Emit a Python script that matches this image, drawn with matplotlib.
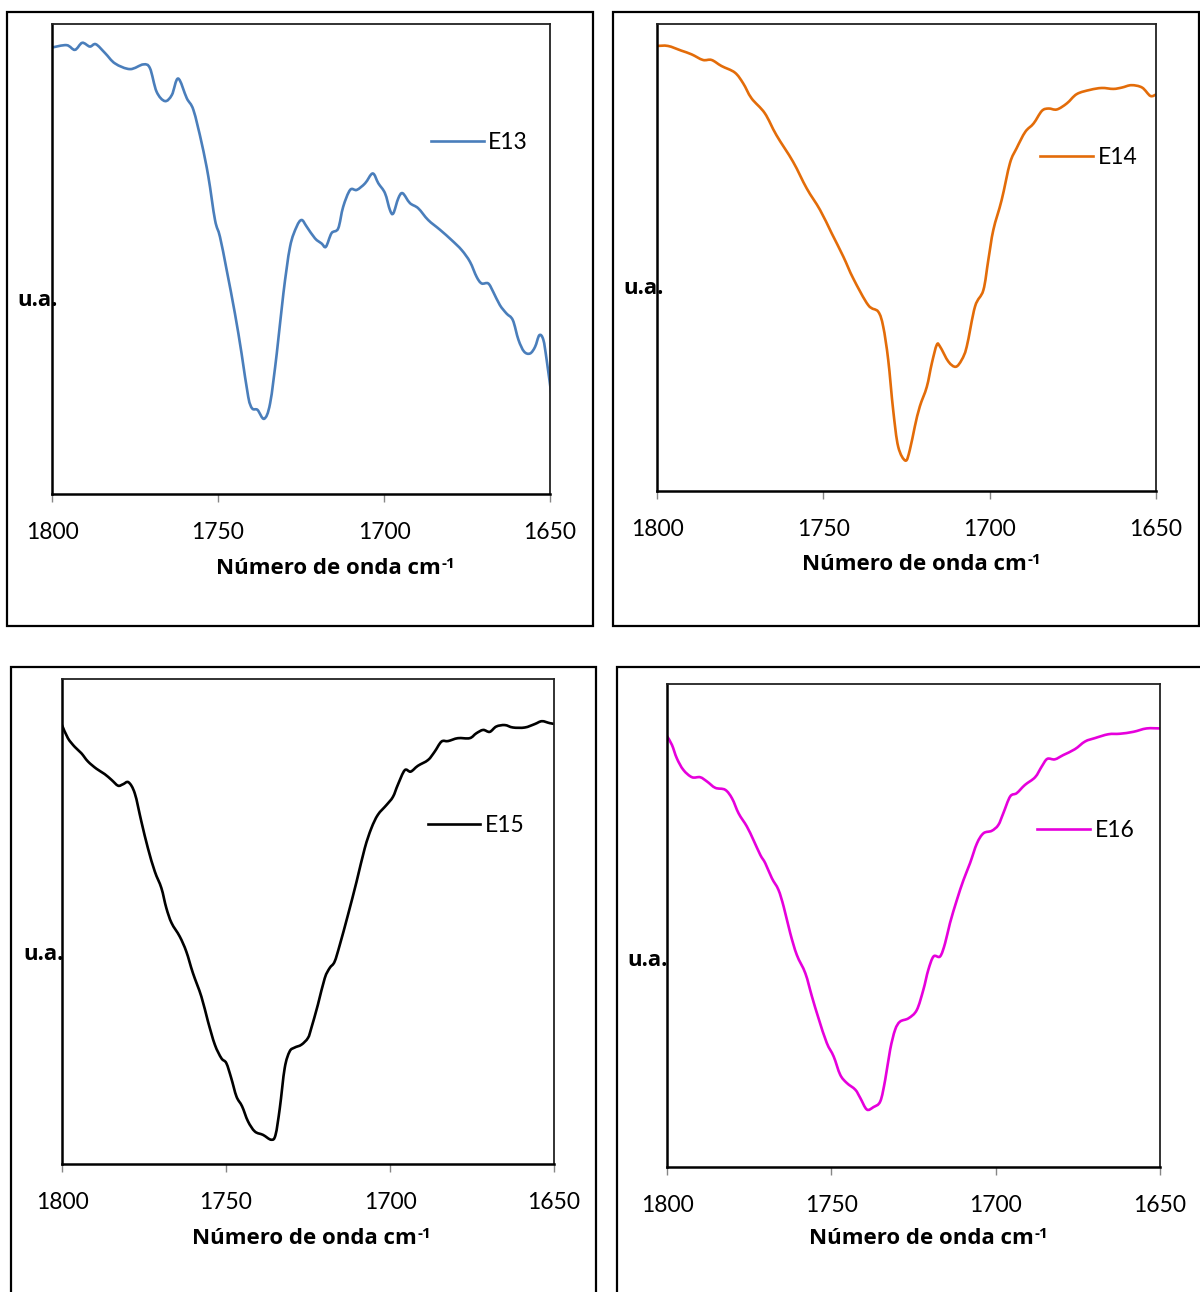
import matplotlib
matplotlib.use("Agg")
import matplotlib.pyplot as plt
import matplotlib.patches as patches
from matplotlib.path import Path
from matplotlib.lines import Line2D
import numpy as np

plt.rcParams['font.family'] = ['Lato', 'DejaVu Sans']

# wavenumber (cm-1) and intensity (u.a.)
wn_e13 = [1800, 1795.6, 1793.1, 1790.9, 1788.6, 1786.8, 1784.0, 1781.0, 1776.5, 1772.5,
          1770.5, 1768.5, 1766.0, 1763.9, 1762.0, 1759.4, 1757.4, 1754.9, 1752.9, 1750.9,
          1749.4, 1747.4, 1744.9, 1742.9, 1740.9, 1739.7, 1738.1, 1736.1, 1734.3, 1732.3,
          1730.3, 1728.3, 1726.3, 1724.8, 1723.3, 1720.8, 1718.8, 1717.5, 1715.8, 1713.8,
          1712.3, 1710.2, 1708.2, 1705.7, 1703.4, 1701.7, 1699.7, 1698.2, 1697.2, 1695.7,
          1694.4, 1692.2, 1689.7, 1686.7, 1683.1, 1679.6, 1676.6, 1674.1, 1672.1, 1670.6,
          1668.6, 1667.1, 1665.1, 1663.1, 1661.2, 1659.5, 1657.8, 1656.0, 1654.5, 1653.2,
          1652.0, 1651.0, 1649.5]
ua_e13 = [95.0, 95.5, 94.5, 96.0, 95.2, 95.7, 93.8, 91.6, 90.4, 91.4,
          90.6, 85.6, 83.6, 84.9, 88.4, 84.2, 81.7, 74.6, 67.5, 58.3,
          54.7, 47.7, 38.4, 29.9, 20.7, 18.2, 17.9, 16.0, 19.3, 29.9,
          42.7, 52.6, 56.9, 58.3, 56.9, 54.4, 53.3, 52.6, 55.5, 56.5,
          61.1, 64.7, 64.7, 66.1, 68.2, 66.1, 64.0, 60.4, 59.7, 62.9,
          64.0, 61.9, 60.8, 58.3, 56.2, 54.0, 51.9, 49.4, 46.2, 44.8,
          44.8, 43.0, 40.2, 38.4, 37.0, 32.8, 30.3, 29.9, 31.3, 33.8,
          32.8, 28.5, 20.7]

wn_e14 = [1800, 1796.7, 1792.7, 1789.6, 1786.2, 1783.6, 1780.6, 1776.6, 1774.1, 1771.6,
          1767.6, 1764.1, 1759.1, 1755.0, 1751.0, 1747.5, 1744.0, 1741.0, 1736.5, 1733.5,
          1732.0, 1730.5, 1729.0, 1727.5, 1725.3, 1724.0, 1722.5, 1721.0, 1718.9, 1717.4,
          1715.9, 1714.9, 1712.4, 1710.2, 1708.4, 1706.9, 1704.4, 1701.9, 1700.4, 1698.9,
          1696.4, 1693.9, 1691.9, 1689.3, 1686.8, 1684.3, 1682.3, 1679.8, 1676.8, 1673.8,
          1669.8, 1666.3, 1662.8, 1660.2, 1657.4, 1654.2, 1651.7, 1650.0]
ua_e14 = [95.3, 95.3, 94.3, 93.5, 92.3, 92.3, 91.0, 89.6, 87.3, 84.1,
          80.9, 76.2, 70.5, 64.8, 60.2, 55.2, 50.2, 45.5, 39.8, 38.4,
          35.2, 28.1, 17.3, 9.5, 6.5, 8.8, 13.8, 18.1, 22.3, 27.3,
          31.3, 30.9, 27.7, 26.6, 28.1, 30.9, 39.5, 43.0, 49.5, 55.9,
          62.3, 70.2, 73.4, 76.9, 78.7, 81.4, 81.9, 81.7, 83.0, 85.0,
          85.9, 86.3, 86.1, 86.4, 86.9, 86.4, 84.6, 84.9]

wn_e15 = [1800, 1798.2, 1796.1, 1794.1, 1792.1, 1789.5, 1787.0, 1784.9, 1782.9, 1781.4,
          1779.7, 1777.8, 1775.8, 1773.8, 1771.7, 1769.7, 1768.2, 1766.6, 1764.1, 1762.1,
          1760.1, 1757.5, 1755.5, 1753.4, 1751.4, 1749.9, 1748.4, 1746.8, 1745.1, 1743.3,
          1741.2, 1738.7, 1736.2, 1734.9, 1733.6, 1732.1, 1730.6, 1729.1, 1727.0, 1725.0,
          1724.0, 1722.0, 1719.9, 1718.4, 1716.9, 1715.3, 1712.8, 1710.2, 1707.7, 1705.7,
          1703.7, 1701.1, 1699.1, 1697.6, 1695.5, 1693.7, 1691.5, 1688.4, 1686.4, 1684.3,
          1682.3, 1679.3, 1675.7, 1673.7, 1671.6, 1669.6, 1667.6, 1665.0, 1662.5, 1658.9,
          1655.9, 1653.7, 1651.3, 1649.5]
ua_e15 = [90.5, 87.8, 86.0, 84.7, 83.0, 81.5, 80.4, 79.2, 78.0, 78.3,
          78.7, 76.4, 70.6, 65.1, 60.3, 56.9, 52.8, 49.7, 46.9, 43.8,
          39.4, 34.5, 29.4, 24.6, 21.8, 20.8, 17.7, 13.9, 11.9, 8.8,
          6.7, 6.0, 5.0, 6.0, 11.5, 19.8, 23.2, 24.0, 24.6, 26.0,
          28.0, 32.8, 38.3, 40.4, 41.7, 45.2, 51.4, 58.2, 65.1, 69.2,
          72.0, 74.0, 75.7, 78.2, 81.2, 80.9, 82.1, 83.3, 85.0, 87.1,
          87.2, 87.8, 87.8, 88.8, 89.5, 89.1, 90.2, 90.5, 90.0, 90.0,
          90.7, 91.3, 90.9, 90.7]

wn_e16 = [1800, 1798.5, 1797.0, 1795.0, 1792.4, 1789.9, 1787.8, 1785.3, 1782.3, 1780.2,
          1778.2, 1775.7, 1773.7, 1771.6, 1770.1, 1768.1, 1766.1, 1764.5, 1762.5, 1760.5,
          1757.9, 1755.9, 1753.9, 1751.4, 1749.3, 1747.3, 1745.3, 1742.7, 1741.2, 1739.2,
          1737.2, 1735.1, 1733.6, 1732.1, 1730.6, 1729.1, 1726.5, 1724.0, 1722.0, 1720.5,
          1718.9, 1716.9, 1715.4, 1713.9, 1711.8, 1709.8, 1707.8, 1705.7, 1703.7, 1701.2,
          1699.2, 1697.7, 1695.6, 1693.6, 1691.1, 1688.0, 1686.0, 1684.3, 1682.0, 1679.4,
          1675.9, 1672.8, 1669.8, 1665.7, 1662.2, 1658.1, 1654.1, 1650.0]
ua_e16 = [89.2, 87.4, 84.6, 82.2, 80.7, 80.7, 79.8, 78.5, 78.1, 76.3,
          73.2, 70.5, 67.7, 64.6, 62.9, 59.8, 57.4, 53.9, 48.4, 43.9,
          40.1, 35.3, 30.8, 25.7, 22.9, 19.1, 17.4, 16.0, 14.3, 11.9,
          12.4, 13.6, 18.1, 24.3, 28.4, 30.1, 30.8, 32.5, 36.7, 40.8,
          43.6, 43.6, 46.3, 50.5, 55.3, 59.4, 62.9, 67.0, 69.1, 69.6,
          70.8, 73.2, 76.7, 77.4, 79.1, 80.7, 82.9, 84.5, 84.4, 85.3,
          86.5, 88.1, 88.8, 89.6, 89.7, 90.1, 90.8, 90.8]

names = ["E13", "E14", "E15", "E16"]
colors = ["#4A7EBB", "#E36C09", "#000000", "#E600DC"]
xticks = [1800, 1750, 1700, 1650]

W, H = 1200, 1292
fig = plt.figure(figsize=(W / 100, H / 100), dpi=100)
fig.patch.set_facecolor("white")


def px_box(x0, y0, x1, y1):
    fig.add_artist(patches.Rectangle((x0 / W, 1 - y1 / H), (x1 - x0) / W, (y1 - y0) / H,
                                     transform=fig.transFigure, fill=False,
                                     edgecolor="black", linewidth=1.6))


def px_axes(left, top, right, bottom):
    return fig.add_axes([left / W, 1 - bottom / H, (right - left) / W, (bottom - top) / H])


def smooth_path(x, y):
    # Excel-like "smoothed line": bezier segments through every data point
    p = np.column_stack([x, y]).astype(float)
    p_ext = np.vstack([p[0], p, p[-1]])
    verts = [p[0]]
    codes = [Path.MOVETO]
    for i in range(len(p) - 1):
        p0, p1, p2, p3 = p_ext[i], p_ext[i + 1], p_ext[i + 2], p_ext[i + 3]
        verts += [p1 + (p2 - p0) / 6.0, p2 - (p3 - p1) / 6.0, p2]
        codes += [Path.CURVE4] * 3
    return Path(verts, codes)


# layout of the four panels in pixels: outer frame, plot area, label positions, legend spot
panels = [
    dict(frame=(7, 12, 593, 626), plot=(52, 24, 550, 494), ua=(58, 300), xl=(337, 568), leg=(0.761, 0.747)),
    dict(frame=(613, 12, 1199, 626), plot=(657, 24, 1156, 491), ua=(664, 288), xl=(923, 565), leg=(0.768, 0.715)),
    dict(frame=(11, 667, 596, 1320), plot=(62, 679, 554, 1164), ua=(64, 955), xl=(313, 1239), leg=(0.743, 0.697)),
    dict(frame=(617, 667, 1220, 1320), plot=(667, 684, 1160, 1167), ua=(668, 960), xl=(930, 1238), leg=(0.751, 0.696)),
]
series = [(wn_e13, ua_e13), (wn_e14, ua_e14), (wn_e15, ua_e15), (wn_e16, ua_e16)]

bold = dict(family=["Open Sans", "DejaVu Sans"], fontweight="bold")
labels = []
for p, (wn, ua), name, col in zip(panels, series, names, colors):
    px_box(*p["frame"])
    ax = px_axes(*p["plot"])
    ax.add_patch(patches.PathPatch(smooth_path(wn, ua), facecolor="none", edgecolor=col,
                                   linewidth=1.9, capstyle="round", joinstyle="round"))
    ax.set_xlim(1800, 1650)
    ax.set_ylim(0, 100)
    ax.set_xticks(xticks)
    ax.set_yticks([])
    ax.tick_params(axis="x", direction="out", length=6, width=1, color="#868686",
                   labelsize=16.5, pad=14)
    for s in ["left", "bottom"]:
        ax.spines[s].set_linewidth(1.8)
        ax.spines[s].set_color("black")
    for s in ["top", "right"]:
        ax.spines[s].set_linewidth(1.3)
        ax.spines[s].set_color("#222222")
    handle = Line2D([], [], color=col, linewidth=1.9)
    ax.legend([handle], [name], loc="center left", bbox_to_anchor=p["leg"], frameon=False,
              fontsize=16.5, handlelength=2.3, handletextpad=0.2,
              borderpad=0, borderaxespad=0)
    fig.text(p["ua"][0] / W, 1 - p["ua"][1] / H, "u.a.", ha="right", va="center",
             fontsize=16, **bold)
    t = fig.text((p["xl"][0] - 9) / W, 1 - p["xl"][1] / H, "Número de onda cm",
                 ha="center", va="center", fontsize=16, **bold)
    labels.append(t)

# superscript "-1" placed right after each axis title
fig.canvas.draw()
renderer = fig.canvas.get_renderer()
for t in labels:
    bb = t.get_window_extent(renderer)
    fig.text((bb.x1 + 1) / W, (bb.y1 + 1) / H, "-1", ha="left", va="top",
             fontsize=11, **bold)

fig.savefig("out.png", dpi=100, facecolor="white")
